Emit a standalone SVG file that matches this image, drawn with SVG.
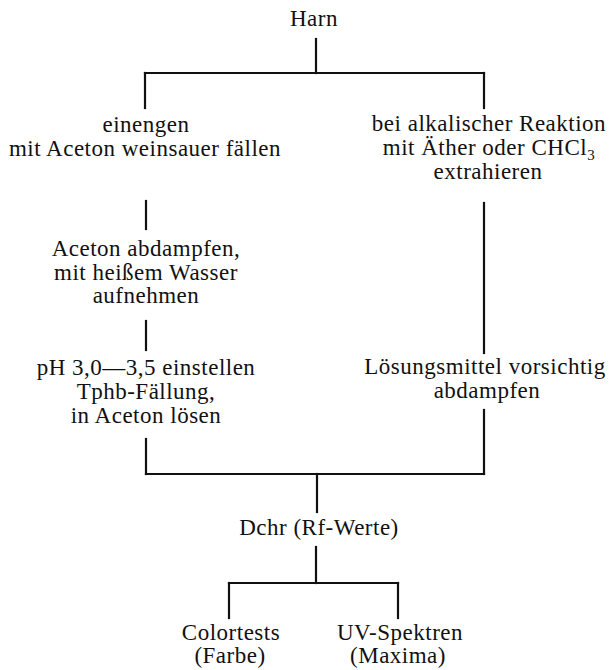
<svg xmlns="http://www.w3.org/2000/svg" width="610" height="670" viewBox="0 0 610 670">
<style>
text{font-family:"Liberation Serif","Times New Roman",serif;font-size:23px;fill:#111;text-anchor:middle;letter-spacing:0.5px}
.c line{stroke:#111;stroke-width:2.2;stroke-linecap:square;fill:none}
</style>
<rect width="610" height="670" fill="#fff"/>
<g class="c" id="connectors">
<line x1="316" y1="39" x2="316" y2="73"/>
<line x1="145" y1="73" x2="484" y2="73"/>
<line x1="145" y1="73" x2="145" y2="108"/>
<line x1="484" y1="73" x2="484" y2="108"/>
<line x1="146" y1="201" x2="146" y2="229"/>
<line x1="146" y1="321" x2="146" y2="350"/>
<line x1="146" y1="439" x2="146" y2="474"/>
<line x1="484" y1="203" x2="484" y2="353"/>
<line x1="484" y1="410" x2="484" y2="474"/>
<line x1="146" y1="474" x2="484" y2="474"/>
<line x1="317" y1="474" x2="317" y2="512"/>
<line x1="316" y1="547" x2="316" y2="583"/>
<line x1="229" y1="583" x2="398" y2="583"/>
<line x1="229" y1="583" x2="229" y2="618"/>
<line x1="398" y1="583" x2="398" y2="618"/>
</g>
<g id="harn"><text x="314" y="26">Harn</text></g>
<g id="einengen">
<text x="146" y="132">einengen</text>
<text x="145" y="156">mit Aceton weinsauer fällen</text>
</g>
<g id="alkalisch">
<text x="489" y="131">bei alkalischer Reaktion</text>
<text x="489" y="155">mit Äther  oder CHCl<tspan font-size="15" dy="5">3</tspan></text>
<text x="488" y="179">extrahieren</text>
</g>
<g id="abdampfen">
<text x="146" y="256">Aceton abdampfen,</text>
<text x="146" y="280">mit heißem Wasser</text>
<text x="146" y="303">aufnehmen</text>
</g>
<g id="ph">
<text x="146" y="375">pH 3,0—3,5 einstellen</text>
<text x="146" y="399">Tphb-Fällung,</text>
<text x="146" y="423">in Aceton lösen</text>
</g>
<g id="loesungsmittel">
<text x="485" y="374">Lösungsmittel  vorsichtig</text>
<text x="487" y="398">abdampfen</text>
</g>
<g id="dchr"><text x="319" y="535">Dchr (Rf-Werte)</text></g>
<g id="colortests">
<text x="231" y="640">Colortests</text>
<text x="230" y="663">(Farbe)</text>
</g>
<g id="uv">
<text x="400" y="640">UV-Spektren</text>
<text x="398" y="663">(Maxima)</text>
</g>
</svg>
